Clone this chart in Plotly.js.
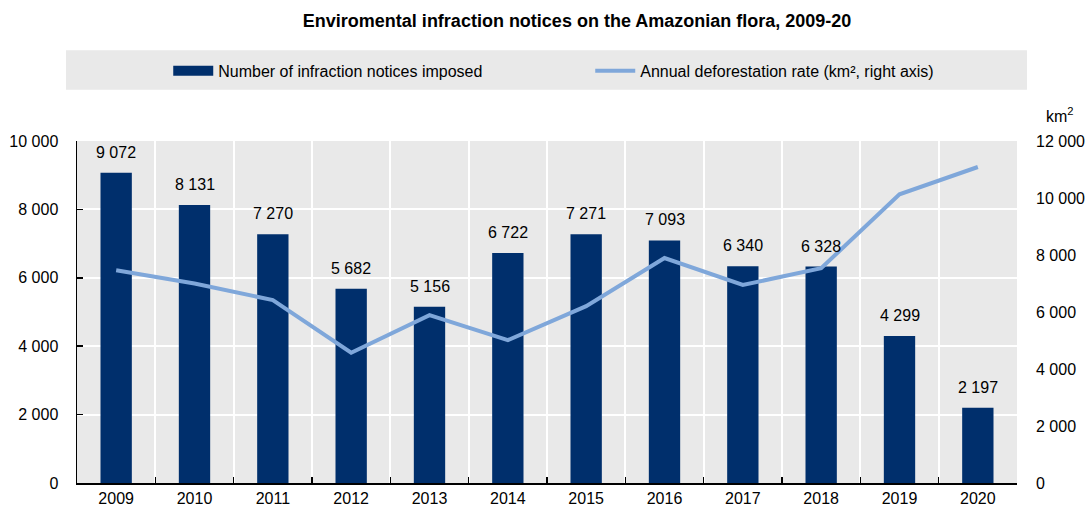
<!DOCTYPE html>
<html>
<head>
<meta charset="utf-8">
<script src="https://cdn.plot.ly/plotly-3.0.1.min.js"></script>
<style>html,body{margin:0;padding:0;background:#fff;}#chart{width:1087px;height:507px;}</style>
</head>
<body>
<div id="chart"></div>
<script>
const years = ["2009","2010","2011","2012","2013","2014","2015","2016","2017","2018","2019","2020"];
const notices = [9072, 8131, 7270, 5682, 5156, 6722, 7271, 7093, 6340, 6328, 4299, 2197];
const deforestation = [7464, 7000, 6418, 4571, 5891, 5012, 6207, 7893, 6947, 7536, 10129, 11088];
const leftTicks = [0, 2000, 4000, 6000, 8000, 10000];
const rightTicks = [0, 2000, 4000, 6000, 8000, 10000, 12000];

const FONT = '"Liberation Sans", Arial, sans-serif';
const NAVY = '#002F6C';
const fmt = v => String(v).replace(/\B(?=(\d{3})+(?!\d))/g, ' ');

const traces = [
  {
    type: 'bar', x: years, y: notices, name: 'Number of infraction notices imposed',
    marker: {color: NAVY}, width: 0.4, showlegend: false, legendgroup: 'bars',
    hoverinfo: 'x+y'
  },
  // legend-only entry so the bar key is drawn as a wide block, as in the reference
  {
    type: 'scatter', mode: 'lines', x: [null], y: [null], name: 'Number of infraction notices imposed',
    line: {color: NAVY, width: 12}, legendgroup: 'bars', hoverinfo: 'skip'
  },
  {
    type: 'scatter', mode: 'lines', x: years, y: deforestation, yaxis: 'y2',
    name: 'Annual deforestation rate (km², right axis)',
    line: {color: '#7FA7DA', width: 4}
  }
];

// bar value labels, placed by category index on the category axis
const barLabels = years.map((yr, i) => ({
  x: i, y: notices[i], xref: 'x', yref: 'y', text: fmt(notices[i]),
  showarrow: false, xanchor: 'center', yanchor: 'bottom', yshift: 10,
  font: {family: FONT, size: 16, color: '#000'}
}));

const layout = {
  width: 1087, height: 507,
  margin: {l: 77, r: 70, t: 141, b: 24, pad: 0},
  paper_bgcolor: '#ffffff', plot_bgcolor: '#e9e9e9',
  separators: '. ',
  font: {family: FONT, size: 16, color: '#000'},
  title: {
    text: '<b>Enviromental infraction notices on the Amazonian flora, 2009-20</b>',
    font: {family: FONT, size: 18, color: '#000'},
    x: 0.532, xref: 'paper', xanchor: 'center', y: 0.96, yref: 'container', yanchor: 'middle'
  },
  showlegend: true,
  legend: {
    orientation: 'h', x: 0.546, xanchor: 'center', y: 1.205, yanchor: 'middle',
    bgcolor: 'rgba(0,0,0,0)', font: {family: FONT, size: 16, color: '#000'},
    entrywidth: 367, itemwidth: 40, traceorder: 'normal'
  },
  xaxis: {
    type: 'category', categoryorder: 'array', categoryarray: years, range: [-0.5, years.length - 0.5],
    tickson: 'boundaries', ticks: 'inside', ticklen: 6, tickwidth: 1.5, tickcolor: '#000',
    showline: true, linecolor: '#000', linewidth: 1.5,
    showgrid: true, gridcolor: '#ffffff', gridwidth: 2,
    tickfont: {size: 16, family: FONT, color: '#000'}, fixedrange: true
  },
  yaxis: {
    range: [0, 10000], tickvals: leftTicks, tickformat: ',d',
    ticks: 'inside', ticklen: 6, tickwidth: 1.5, tickcolor: '#000',
    showline: true, linecolor: '#000', linewidth: 1.5,
    showgrid: true, gridcolor: '#ffffff', gridwidth: 2, zeroline: false,
    ticklabelstandoff: 14,
    tickfont: {size: 16, family: FONT, color: '#000'}, fixedrange: true
  },
  yaxis2: {
    overlaying: 'y', side: 'right', range: [0, 12000], tickvals: rightTicks, tickformat: ',d',
    showgrid: false, zeroline: false, showline: false, ticks: '',
    ticklabelstandoff: 18,
    tickfont: {size: 16, family: FONT, color: '#000'}, fixedrange: true
  },
  shapes: [
    {type: 'rect', xref: 'paper', yref: 'paper', x0: -0.0117, x1: 1.0106, y0: 1.15, y1: 1.265,
     fillcolor: '#e9e9e9', line: {width: 0}, layer: 'below'}
  ],
  annotations: [
    {text: 'km<sup>2</sup>', xref: 'paper', yref: 'paper', x: 1.0457, y: 1.075,
     xanchor: 'center', yanchor: 'middle', showarrow: false, font: {family: FONT, size: 16, color: '#000'}}
  ].concat(barLabels)
};

Plotly.newPlot('chart', traces, layout, {displayModeBar: false, staticPlot: true});
</script>
</body>
</html>
